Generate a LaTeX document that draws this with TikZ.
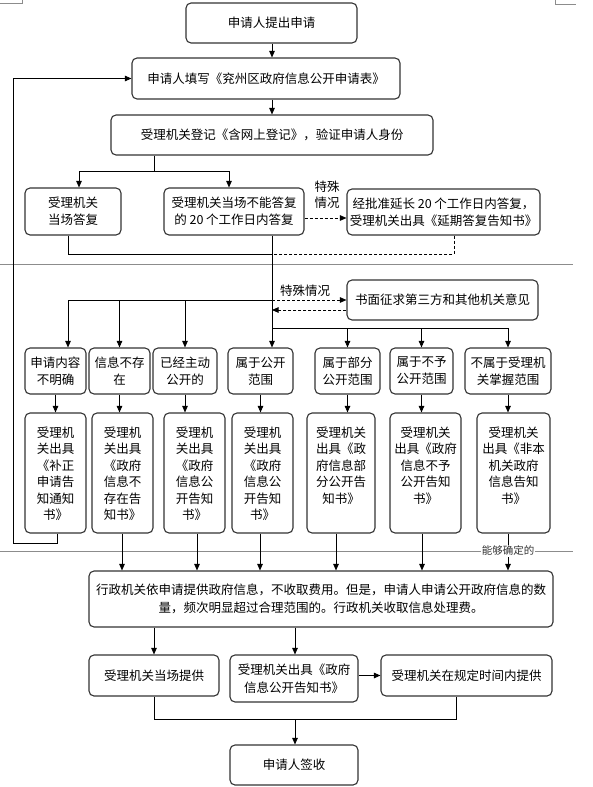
\documentclass[tikz,border=0pt]{standalone}
\usepackage{fontspec}
\setmainfont{Noto Sans CJK SC}
\usetikzlibrary{arrows.meta}
\tikzset{
  box/.style={draw=black!80, line width=1.1pt, rounded corners=5pt, inner sep=0pt, align=center, font=\fontsize{12.5}{17}\selectfont},
  txt/.style={inner sep=0pt, align=center, font=\fontsize{12.5}{16.4}\selectfont},
  arr/.style={-{Triangle[length=6.5pt,width=5.5pt]}},
  dsh/.style={dash pattern=on 3pt off 2pt},
  pg/.style={draw=black!45, line width=0.9pt},
  lbl/.style={inner sep=1pt, align=center, font=\fontsize{12.5}{16}\selectfont},
  smalllbl/.style={inner sep=1pt, fill=white, text=black!80, font=\fontsize{10.5}{12}\selectfont},
}
\newcommand\bx[6]{\node[box, minimum width={#4-#2}, minimum height={#5-#3}] (#1) at ({(#2+#4)/2},{(#3+#5)/2}) {#6};}
\begin{document}
\begin{tikzpicture}[x=1pt, y=-1pt, line width=0.9pt]
\useasboundingbox[fill=white] (0,0) rectangle (592,787);
% page marks
\draw[pg] (0,3) -- (22,3) -- (22,0);
\draw[pg] (555,0) -- (555,4) -- (576,4);
\draw[pg] (0,264) -- (573,264);
\draw[pg] (0,551) -- (573,551);
% boxes
\bx{b1}{186}{3}{357}{43}{申请人提出申请}
\bx{b2}{132}{58}{400}{99}{申请人填写《兖州区政府信息公开申请表》}
\bx{b3}{111}{115}{433}{155}{受理机关登记《含网上登记》，验证申请人身份}
\bx{b4}{25}{188}{121}{235}{受理机关\\当场答复}
\bx{b5}{164}{188}{304}{235}{受理机关当场不能答复\\的 20 个工作日内答复}
\bx{b6}{347}{189}{540}{235}{经批准延长 20 个工作日内答复，\\受理机关出具《延期答复告知书》}
\bx{bq}{347}{280}{538}{320}{书面征求第三方和其他机关意见}
% row 1
\bx{a1}{25}{348}{86}{394}{申请内容\\不明确}
\bx{a2}{89}{348}{150}{394}{信息不存\\在}
\bx{a3}{153}{348}{217}{394}{已经主动\\公开的}
\bx{a4}{228}{348}{293}{394}{属于公开\\范围}
\bx{a5}{315}{348}{380}{394}{属于部分\\公开范围}
\bx{a6}{390}{348}{453}{394}{属于不予\\公开范围}
\bx{a7}{465}{348}{551}{394}{不属于受理机\\关掌握范围}
% row 2
\bx{r1}{25}{413}{86}{533}{}
\bx{r2}{92}{413}{153}{533}{}
\bx{r3}{164}{413}{225}{533}{}
\bx{r4}{232}{413}{293}{533}{}
\bx{r5}{307}{413}{375}{533}{}
\bx{r6}{390}{413}{461}{533}{}
\bx{r7}{477}{413}{550}{533}{}
\node[txt, anchor=north] (r1t) at ([yshift=-14pt]r1.north) {受理机\\关出具\\《补正\\申请告\\知通知\\书》};
\node[txt, anchor=north] (r2t) at ([yshift=-14pt]r2.north) {受理机\\关出具\\《政府\\信息不\\存在告\\知书》};
\node[txt, anchor=north] (r3t) at ([yshift=-14pt]r3.north) {受理机\\关出具\\《政府\\信息公\\开告知\\书》};
\node[txt, anchor=north] (r4t) at ([yshift=-14pt]r4.north) {受理机\\关出具\\《政府\\信息公\\开告知\\书》};
\node[txt, anchor=north] (r5t) at ([yshift=-14pt]r5.north) {受理机关\\出具《政\\府信息部\\分公开告\\知书》};
\node[txt, anchor=north] (r6t) at ([yshift=-14pt]r6.north) {受理机关\\出具《政府\\信息不予\\公开告知\\书》};
\node[txt, anchor=north] (r7t) at ([yshift=-14pt]r7.north) {受理机关\\出具《非本\\机关政府\\信息告知\\书》};
% main and bottom
\node[box, minimum width=464, minimum height=56, font=\fontsize{12.5}{18}\selectfont] (m) at (321,599) {行政机关依申请提供政府信息，不收取费用。但是，申请人申请公开政府信息的数\\量，频次明显超过合理范围的。行政机关收取信息处理费。};
\bx{c1}{89}{655}{219}{696}{受理机关当场提供}
\node[box, minimum width=128, minimum height=47, font=\fontsize{12.5}{18.5}\selectfont] (c2) at (294,678.5) {受理机关出具《政府\\信息公开告知书》};
\bx{c3}{381}{655}{552}{696}{受理机关在规定时间内提供}
\bx{f}{230}{745}{358}{785}{申请人签收}
% labels
\node[lbl] (l1) at (327,195) {特殊\\情况};
\node[lbl] (l2) at (305,291) {特殊情况};
% helper coordinates
\coordinate (v) at (272,0);
\coordinate (k1) at (154,171);
\coordinate (k1l) at (79,171);
\coordinate (k1r) at (229,171);
\coordinate (y218) at (0,218);
\coordinate (k2) at (68,254);
\coordinate (k3) at (454,254);
\coordinate (k4) at (68,300);
\coordinate (k5) at (0,310);
\coordinate (k6) at (272,328);
\coordinate (m2) at (122,0);
\coordinate (m3) at (197,0);
\coordinate (m4) at (260,0);
\coordinate (m5) at (336,0);
\coordinate (m6) at (422,0);
\coordinate (m7) at (508,0);
\coordinate (fb1) at (57,543);
\coordinate (fb2) at (13,543);
\coordinate (q1) at (154,0);
\coordinate (q2) at (295,0);
\coordinate (q3) at (154,719);
\coordinate (q4) at (456,719);
\coordinate (q5) at (295,719);
% connectors top
\draw[arr] (b1.south -| v) -- (b2.north -| v);
\draw[arr] (b2.south -| v) -- (b3.north -| v);
\draw (b3.south -| k1) -- (k1);
\draw (k1l) -- (k1r);
\draw[arr] (k1l) -- (b4.north -| k1l);
\draw[arr] (k1r) -- (b5.north -| k1r);
\draw[arr, dsh] (b5.east |- y218) -- (b6.west |- y218);
\draw (b4.south -| k2) -- (k2) -- (k2 -| v);
\draw[dsh] (b6.south -| k3) -- (k3) -- (k3 -| v);
\draw[arr] (b5.south -| v) -- (a4.north -| v);
% middle fan-out
\draw (k4) -- (k4 -| v);
\draw[arr] (k4) -- (a1.north -| k4);
\draw[arr] (a2.north |- k4) -- (a2.north);
\draw[arr] (a3.north |- k4) -- (a3.north);
\draw[arr, dsh] (v |- bq.west) -- (bq.west);
\draw[arr, dsh] (bq.west |- k5) -- (v |- k5);
\draw (k6) -- (k6 -| a7.north);
\draw[arr] (a5.north |- k6) -- (a5.north);
\draw[arr] (a6.north |- k6) -- (a6.north);
\draw[arr] (a7.north |- k6) -- (a7.north);
% row1 to row2
\draw[arr] (a1.south) -- (a1.south |- r1.north);
\draw[arr] (a2.south) -- (a2.south |- r2.north);
\draw[arr] (a3.south) -- (a3.south |- r3.north);
\draw[arr] (a4.south) -- (a4.south |- r4.north);
\draw[arr] (a5.south) -- (a5.south |- r5.north);
\draw[arr] (a6.south) -- (a6.south |- r6.north);
\draw[arr] (a7.south) -- (a7.south |- r7.north);
% row2 to main
\draw[arr] (r2.south -| m2) -- (m.north -| m2);
\draw[arr] (r3.south -| m3) -- (m.north -| m3);
\draw[arr] (r4.south -| m4) -- (m.north -| m4);
\draw[arr] (r5.south -| m5) -- (m.north -| m5);
\draw[arr] (r6.south -| m6) -- (m.north -| m6);
\draw[arr] (r7.south -| m7) -- (m.north -| m7) node[smalllbl, pos=0.47] (l3) {能够确定的};
% feedback loop
\draw[arr] (r1.south -| fb1) -- (fb1) -- (fb2) -- (fb2 |- b2.west) -- (b2.west);
% bottom
\draw[arr] (m.south -| q1) -- (c1.north -| q1);
\draw[arr] (m.south -| q2) -- (c2.north -| q2);
\draw[arr] (c2.east |- c3.west) -- (c3.west);
\draw (c1.south -| q3) -- (q3) -- (q4) -- (c3.south -| q4);
\draw[arr] (q5) -- (f.north -| q5);
\end{tikzpicture}
\end{document}
